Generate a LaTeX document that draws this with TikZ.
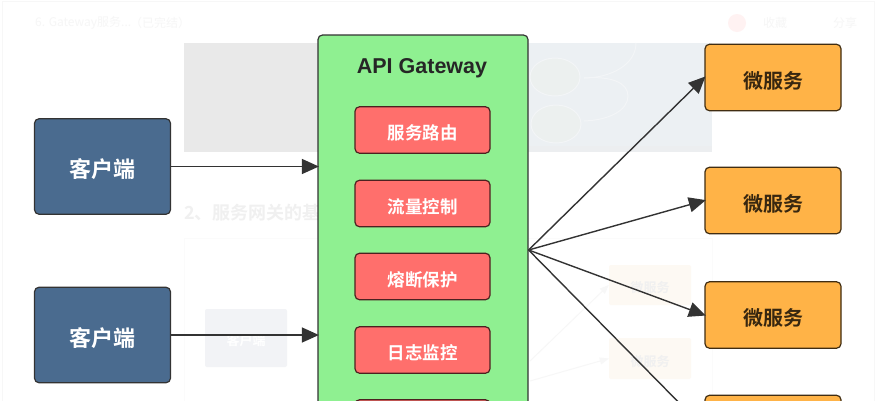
\documentclass[tikz,border=0pt]{standalone}
\usepackage{fontspec}
\setmainfont{Liberation Sans}
\newfontfamily\cjk{Noto Sans CJK SC}[BoldFont={* Bold}]
\usetikzlibrary{arrows.meta,shapes.geometric}
\definecolor{clientblue}{HTML}{4A6B8F}
\definecolor{gwgreen}{HTML}{8FF091}
\definecolor{modred}{HTML}{FF6F6C}
\definecolor{svcorange}{HTML}{FFB347}
\definecolor{edgedark}{HTML}{333333}
\definecolor{panelgrey}{HTML}{E9E9E9}
\definecolor{panelblue}{HTML}{ECF0F3}
\definecolor{panelline}{HTML}{F3F5F7}
\definecolor{blobfill}{HTML}{ECF0EF}
\definecolor{ghostclient}{HTML}{F2F3F6}
\definecolor{ghostsvc}{HTML}{FDF9F3}
\newcommand{\dn}[1]{\raisebox{-3pt}[\height][\depth]{#1}}
\tikzset{
  box/.style={draw=edgedark,line width=1.2pt,rounded corners=4.5pt,inner sep=0pt,align=center},
  client/.style={box,fill=clientblue,minimum width=136pt,minimum height=95.5pt,text=white,font=\cjk\bfseries\fontsize{22}{26}\selectfont},
  svc/.style={box,fill=svcorange,draw=black!75!svcorange,minimum width=136pt,minimum height=66.5pt,text=black!78!svcorange,font=\cjk\bfseries\fontsize{20}{24}\selectfont},
  module/.style={box,fill=modred,draw=black!70!modred,minimum width=135pt,minimum height=46.5pt,text=white,font=\cjk\bfseries\fontsize{17.5}{21}\selectfont},
  gateway/.style={box,fill=gwgreen,minimum width=210pt,minimum height=430pt},
  link/.style={draw=edgedark,line width=1.4pt,-{Triangle[length=17pt,width=15pt]},shorten >=-1.5pt},
  ghostbox/.style={inner sep=0pt,rounded corners=2pt,font=\cjk\bfseries\fontsize{13}{15}\selectfont},
  ghostlink/.style={draw=black!3,line width=1pt,-{Triangle[length=9pt,width=7pt]}},
  ghosttext/.style={inner sep=0pt,anchor=west,text=black!3.5},
  blob/.style={ellipse,draw=panelline,line width=1pt,fill=blobfill,minimum width=50pt,minimum height=38pt,inner sep=0pt}
}
\begin{document}
\begin{tikzpicture}[x=1pt,y=-1pt]
\useasboundingbox (0,0) rectangle (876,400);
\clip (0,0) rectangle (876,400);
\fill[white] (0,0) rectangle (876,400);
% faint page behind the diagram
\draw[black!3,line width=1pt] (2,402) -- (2,1) -- (874,1) -- (874,402);
\node[ghosttext,font=\cjk\fontsize{12}{14}\selectfont] (hdr) at (35,23) {6. Gateway服务...};
\node[ghosttext,font=\cjk\fontsize{12}{14}\selectfont] (hdrb) at (130,23) {（已完结）};
\node[circle,fill=red!5,minimum size=18pt,inner sep=0pt] (heart) at (737,23) {};
\node[ghosttext,font=\cjk\fontsize{12}{14}\selectfont] (like) at (763,23) {收藏};
\node[ghosttext,font=\cjk\fontsize{12}{14}\selectfont] (share) at (833,23) {分享};
% faint screenshot panel
\fill[panelgrey] (184,43) rectangle (318,152);
\fill[panelblue] (528,43) rectangle (712,152);
\fill[black!7!white,opacity=.35] (528,146) rectangle (712,152);
\node[blob] (blobA) at (555,77) {};
\node[blob] (blobB) at (556,124) {};
\draw[panelline,line width=1pt] (584,78) .. controls (610,78) and (636,65) .. (636,43);
\draw[panelline,line width=1pt] (584,78) .. controls (610,76) and (628,82) .. (628,96) .. controls (628,110) and (610,120) .. (584,121);
% faint lower section
\node[ghosttext,text=black!6,font=\cjk\bfseries\fontsize{18}{21}\selectfont] (sect) at (184,213) {2、服务网关的基};
\draw[black!1.5,line width=1pt] (184,402) -- (184,238) -- (712,238) -- (712,402);
\node[ghostbox,fill=ghostclient,text=white,minimum width=82pt,minimum height=58pt] (gc) at (246,338) {\dn{客户端}};
\node[ghostbox,fill=ghostsvc,text=black!6,minimum width=82pt,minimum height=40pt] (gs1) at (650,285) {\dn{微服务}};
\node[ghostbox,fill=ghostsvc,text=black!6,minimum width=82pt,minimum height=41pt] (gs2) at (650,358.5) {\dn{微服务}};
\coordinate (g1) at (530,361);
\coordinate (g2) at (530,381);
\draw[ghostlink] (g1) -- (gs1.west);
\draw[ghostlink] (g2) -- (gs2.west);
% main diagram
\node[gateway] (gw) at (423,250) {};
\node[inner sep=0pt,text=black!85,font=\bfseries\fontsize{21.5}{26}\selectfont] (title) at (422,65.5) {\dn{API Gateway}};
\node[module] (m1) at (422.5,130) {\dn{服务路由}};
\node[module] (m2) at (422.5,203.5) {\dn{流量控制}};
\node[module] (m3) at (422.5,276.5) {\dn{熔断保护}};
\node[module] (m4) at (422.5,350) {\dn{日志监控}};
\node[module] (m5) at (422.5,423) {};
\node[client] (c1) at (102.5,166.5) {\dn{客户端}};
\node[client] (c2) at (102.5,335) {\dn{客户端}};
\node[svc] (s1) at (773,77.5) {\dn{微服务}};
\node[svc] (s2) at (773,200.5) {\dn{微服务}};
\node[svc] (s3) at (773,315) {\dn{微服务}};
\node[svc] (s4) at (773,428.5) {};
\draw[link] (c1.east) -- (gw.west |- c1.east);
\draw[link] (c2.east) -- (gw.west |- c2.east);
\draw[link] (gw.east) -- (s1.west);
\draw[link] (gw.east) -- (s2.west);
\draw[link] (gw.east) -- (s3.west);
\draw[link] (gw.east) -- (s4.west);
\end{tikzpicture}
\end{document}
